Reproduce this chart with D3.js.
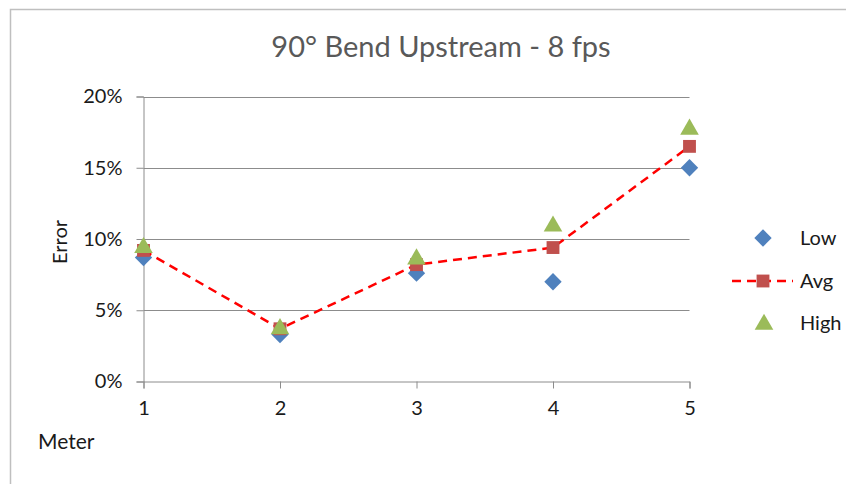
<!DOCTYPE html>
<html>
<head>
<meta charset="utf-8">
<script src="https://cdn.jsdelivr.net/npm/d3@7"></script>
<style>
  html, body { margin: 0; padding: 0; background: #fff; }
  svg { display: block; font-family: Lato, "Open Sans", sans-serif; }
</style>
</head>
<body>
<svg id="chart" width="846" height="484"></svg>
<script>
const title = "90° Bend Upstream - 8 fps";
const meters = [1, 2, 3, 4, 5];
const lowValues = [8.7, 3.3, 7.6, 7.0, 15.0];
const avgValues = [9.2, 3.7, 8.2, 9.4, 16.5];
const highValues = [9.5, 3.8, 8.7, 11.0, 17.8];
const yTicks = [0, 5, 10, 15, 20];
const seriesNames = ["Low", "Avg", "High"];

const svg = d3.select("#chart");
const W = 846, H = 484;

// outer frame (left and top borders visible)
svg.append("path")
  .attr("d", "M10.5," + H + "V9.5H" + W)
  .attr("fill", "none").attr("stroke", "#BFBFBF").attr("stroke-width", 1.5);

const x = d3.scaleLinear().domain([1, 5]).range([143.5, 689.5]);
const y = d3.scaleLinear().domain([0, 20]).range([381.5, 96.5]);

// gridlines
svg.append("g").selectAll("line").data(yTicks.filter(d => d > 0)).join("line")
  .attr("x1", x(1)).attr("x2", x(5))
  .attr("y1", d => Math.round(y(d)) + 0.5).attr("y2", d => Math.round(y(d)) + 0.5)
  .attr("stroke", "#8C8C8C").attr("stroke-width", 1);

// y axis
const yAxis = d3.axisLeft(y).tickValues(yTicks).tickFormat(d => d + "%").tickSize(7).tickPadding(14);
const gy = svg.append("g").attr("transform", "translate(" + x(1) + ",0)").call(yAxis);
gy.select(".domain").attr("stroke", "#8C8C8C");
gy.selectAll(".tick line").attr("stroke", "#8C8C8C");
gy.selectAll(".tick text").attr("font-size", 20).attr("fill", "#1a1a1a").attr("font-family", "Lato, sans-serif");

// x axis
const xAxis = d3.axisBottom(x).tickValues(meters).tickFormat(d3.format("d")).tickSize(7).tickPadding(12);
const gx = svg.append("g").attr("transform", "translate(0," + y(0) + ")").call(xAxis);
gx.select(".domain").attr("stroke", "#8C8C8C");
gx.selectAll(".tick line").attr("stroke", "#8C8C8C");
gx.selectAll(".tick text").attr("font-size", 20).attr("fill", "#1a1a1a").attr("font-family", "Lato, sans-serif");

// title
svg.append("text").attr("x", 441).attr("y", 57).attr("text-anchor", "middle")
  .attr("font-size", 29).attr("fill", "#595959").text(title);

// axis titles
svg.append("text").attr("transform", "translate(67,242) rotate(-90)").attr("text-anchor", "middle")
  .attr("font-size", 20).attr("fill", "#1a1a1a").text("Error");
svg.append("text").attr("x", 38).attr("y", 449)
  .attr("font-size", 21).attr("fill", "#1a1a1a").text("Meter");

const colors = { Low: "#4F81BD", Avg: "#C0504D", High: "#9BBB59" };
const symDiamond = d3.symbol().type(d3.symbolSquare).size(150);
const symSquare = d3.symbol().type(d3.symbolSquare).size(165);
const symTriangle = d3.symbol().type(d3.symbolTriangle).size(150);

function drawDiamond(g, cx, cy) {
  g.append("path").attr("d", symDiamond()).attr("transform", "translate(" + cx + "," + cy + ") rotate(45)")
    .attr("fill", colors.Low);
}
function drawSquare(g, cx, cy) {
  g.append("path").attr("d", symSquare()).attr("transform", "translate(" + cx + "," + cy + ")")
    .attr("fill", colors.Avg);
}
function drawTriangle(g, cx, cy) {
  g.append("path").attr("d", symTriangle()).attr("transform", "translate(" + cx + "," + (cy + 1.5) + ")")
    .attr("fill", colors.High);
}

const marks = svg.append("g");
// Low
meters.forEach((m, i) => drawDiamond(marks, x(m), y(lowValues[i])));
// Avg line + markers
const line = d3.line().x((d, i) => x(meters[i])).y(d => y(d));
marks.append("path").datum(avgValues).attr("d", line)
  .attr("fill", "none").attr("stroke", "#FF0000").attr("stroke-width", 2.5)
  .attr("stroke-dasharray", "9,6");
meters.forEach((m, i) => drawSquare(marks, x(m), y(avgValues[i])));
// High
meters.forEach((m, i) => drawTriangle(marks, x(m), y(highValues[i])));

// legend
const leg = svg.append("g");
const legY = [238, 281, 323];
drawDiamond(leg, 763, legY[0]);
leg.append("line").attr("x1", 732).attr("x2", 793).attr("y1", legY[1]).attr("y2", legY[1])
  .attr("stroke", "#FF0000").attr("stroke-width", 2.5).attr("stroke-dasharray", "9,6");
drawSquare(leg, 763, legY[1]);
drawTriangle(leg, 764, legY[2]);
seriesNames.forEach((n, i) => {
  leg.append("text").attr("x", 800).attr("y", legY[i]).attr("dy", "0.35em")
    .attr("font-size", 20).attr("fill", "#1a1a1a").text(n);
});
</script>
</body>
</html>
